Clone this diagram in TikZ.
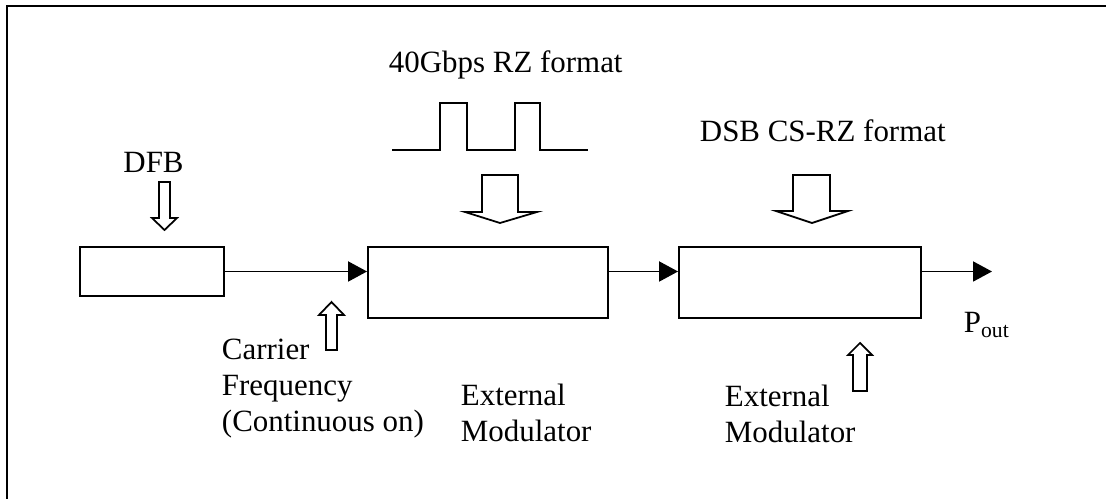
\documentclass[tikz,border=0pt]{standalone}
\usepackage{fontspec}
\setmainfont{Liberation Serif}
\usetikzlibrary{arrows.meta,calc,positioning}

\begin{document}
\begin{tikzpicture}[x=0.02cm,y=-0.02cm,>={Triangle[length=0.38cm,width=0.4cm]},
      line width=1.1pt,
      every node/.style={font=\fontsize{17.6}{20.4}\selectfont,inner sep=0pt},
      block/.style={draw,rectangle,line width=1.1pt},
      link/.style={->,line width=1.1pt},
      hollow/.style={draw,line width=1pt,line join=miter}]
    \useasboundingbox (0,0) rectangle (1106,499);

    % frame
    \draw (7,499) -- (7,6) -- (1106,6);

    % blocks
    \node[block,minimum width=2.88cm,minimum height=0.98cm] (dfb) at (152,271.5) {};
    \node[block,minimum width=4.8cm,minimum height=1.42cm] (modA) at (488,282.5) {};
    \node[block,minimum width=4.84cm,minimum height=1.42cm] (modB) at (800,282.5) {};
    \coordinate (outend) at (992,271.5);

    \draw[link] (dfb.east) -- (dfb.east -| modA.west);
    \draw[link] (modA.east |- dfb.east) -- (modB.west |- dfb.east);
    \draw[link] (modB.east |- dfb.east) -- (outend);

    % labels
    \node[anchor=base] (dfblbl) at (153.5,173) {DFB};
    \node[anchor=base west] (rzlbl) at (388,73) {40Gbps RZ format};
    \node[anchor=base west] (cslbl) at (699,142) {DSB CS-RZ format};
    \node[anchor=base west] (pout) at (963,333) {P\textsubscript{out}};
    \node[anchor=north west,align=left] (carrier) at (221,338)
      {Carrier\\Frequency\\(Continuous on)};
    \node[anchor=north west,align=left] (extA) at (460,383) {External\\Modulator};
    \node[anchor=north west,align=left] (extB) at (724,384) {External\\Modulator};

    % RZ pulses
    \draw (392,150) -- (440,150) -- (440,103) -- (467,103) -- (467,150)
      -- (515,150) -- (515,103) -- (540,103) -- (540,150) -- (588,150);

    % hollow arrows
    \draw[hollow] (159,182) -- (170,182) -- (170,218) -- (177,218)
      -- (164.5,230) -- (152,218) -- (159,218) -- cycle;
    \draw[hollow] (482,175) -- (518,175) -- (518,212) -- (537,212)
      -- (500,223) -- (465,212) -- (482,212) -- cycle;
    \draw[hollow] (793,175) -- (830,175) -- (830,211) -- (848,211)
      -- (812,223) -- (776,211) -- (793,211) -- cycle;
    \draw[hollow] (326,350) -- (337,350) -- (337,315) -- (344,315)
      -- (331.5,302) -- (319,315) -- (326,315) -- cycle;
    \draw[hollow] (853,391) -- (867,391) -- (867,355) -- (872,355)
      -- (860,343) -- (848,355) -- (853,355) -- cycle;
  \end{tikzpicture}
\end{document}
